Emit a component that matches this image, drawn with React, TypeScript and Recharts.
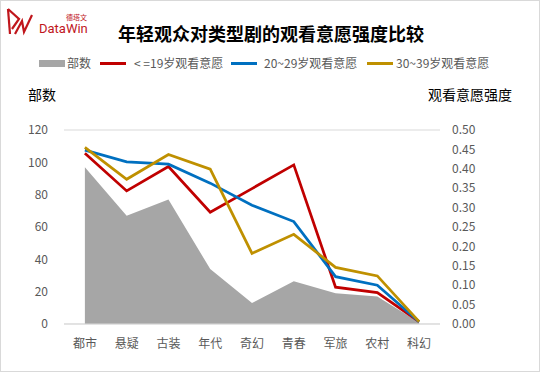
import { ComposedChart, Area, Line, XAxis, YAxis, CartesianGrid } from 'recharts';

const genres = ['都市', '悬疑', '古装', '年代', '奇幻', '青春', '军旅', '农村', '科幻'];
const counts = [97, 67, 77, 34, 13, 26.5, 19, 17, 1];
const under19 = [0.44, 0.343, 0.406, 0.288, 0.349, 0.41, 0.095, 0.081, 0.006];
const age20to29 = [0.448, 0.418, 0.412, 0.363, 0.306, 0.264, 0.122, 0.1, 0.006];
const age30to39 = [0.455, 0.373, 0.437, 0.399, 0.182, 0.231, 0.146, 0.124, 0.006];
const leftTicks = [0, 20, 40, 60, 80, 100, 120];
const rightTicks = [0, 0.05, 0.1, 0.15, 0.2, 0.25, 0.3, 0.35, 0.4, 0.45, 0.5];

const data = genres.map((g, i) => ({
    name: g,
    count: counts[i],
    a: under19[i],
    b: age20to29[i],
    c: age30to39[i],
}));

const FONT = '"Noto Sans CJK SC", "Noto Sans", sans-serif';
const TICK = { fill: '#595959', fontSize: 12, fontFamily: FONT };

// legend: swatch x, text x
const legendItems = [
    { label: '部数', color: '#A6A6A6', box: true, x: 38, tx: 66 },
    { label: '< =19岁观看意愿', color: '#C00000', x: 99, tx: 133 },
    { label: '20~29岁观看意愿', color: '#0070C0', x: 230, tx: 263 },
    { label: '30~39岁观看意愿', color: '#BF9000', x: 366, tx: 395 },
];

function LegendRow() {
    return (
        <div style={{ position: 'absolute', top: 54, left: 0, width: 540, height: 16, fontFamily: FONT, fontSize: 12, color: '#595959' }}>
            {legendItems.map((it) => (
                <div key={it.label}>
                    <span style={{
                        position: 'absolute', left: it.x, top: it.box ? 5 : 7, width: 26, height: it.box ? 7 : 3,
                        background: it.color,
                    }} />
                    <span style={{ position: 'absolute', left: it.tx, top: 0, lineHeight: '16px', whiteSpace: 'pre' }}>{it.label}</span>
                </div>
            ))}
        </div>
    );
}

function Logo() {
    return (
        <svg width={90} height={36} style={{ position: 'absolute', left: 4, top: 4 }}>
            <g stroke="#C0161C" strokeWidth={2.2} fill="none">
                <path d="M3 4 L5 29" />
                <path d="M3 4 L14 14 L7 24" />
                <path d="M10 29 L17 16 L19 27 L27 10" />
            </g>
            <text x={61} y={15} fontSize={7} fill="#C0161C" fontFamily={FONT}>德塔文</text>
            <text x={34} y={28} fontSize={13} fill="#C0161C" fontFamily="Roboto, sans-serif">DataWin</text>
        </svg>
    );
}

export default function App() {
    return (
        <div style={{
            position: 'absolute', left: 0, top: 0, width: 540, height: 372,
            boxSizing: 'border-box', border: '1px solid #d9d9d9', background: '#fff', overflow: 'hidden',
        }}>
            <Logo />
            <div style={{
                position: 'absolute', left: 0, width: 540, top: 19, textAlign: 'center',
                fontFamily: FONT, fontWeight: 'bold', fontSize: 18, color: '#000',
            }}>年轻观众对类型剧的观看意愿强度比较</div>
            <LegendRow />
            <div style={{ position: 'absolute', left: 27, top: 83, fontFamily: FONT, fontSize: 14, color: '#000' }}>部数</div>
            <div style={{ position: 'absolute', left: 427, top: 83, fontFamily: FONT, fontSize: 14, color: '#000' }}>观看意愿强度</div>
            <ComposedChart width={540} height={372} data={data}
                style={{ position: 'absolute', left: -1, top: -1 }}
                margin={{ top: 130, right: 50, bottom: 18, left: 0 }}>
                <CartesianGrid vertical={false} stroke="#d9d9d9" />
                <XAxis dataKey="name" scale="band" tickLine={false} axisLine={{ stroke: '#d9d9d9' }}
                    tick={TICK} tickMargin={9} height={30} interval={0} />
                <YAxis yAxisId="left" width={64} domain={[0, 120]} ticks={leftTicks} interval={0}
                    tickLine={false} axisLine={false} tick={TICK} tickMargin={10} />
                <YAxis yAxisId="right" orientation="right" width={50} domain={[0, 0.5]} ticks={rightTicks}
                    interval={0} tickFormatter={(v: number) => v.toFixed(2)}
                    tickLine={false} axisLine={false} tick={TICK} tickMargin={6} />
                <Area yAxisId="left" type="linear" dataKey="count" fill="#A6A6A6" fillOpacity={1}
                    stroke="none" isAnimationActive={false} />
                <Line yAxisId="right" type="linear" dataKey="a" stroke="#C00000" strokeWidth={2.75}
                    dot={false} isAnimationActive={false} />
                <Line yAxisId="right" type="linear" dataKey="b" stroke="#0070C0" strokeWidth={2.75}
                    dot={false} isAnimationActive={false} />
                <Line yAxisId="right" type="linear" dataKey="c" stroke="#BF9000" strokeWidth={2.75}
                    dot={false} isAnimationActive={false} />
            </ComposedChart>
        </div>
    );
}
